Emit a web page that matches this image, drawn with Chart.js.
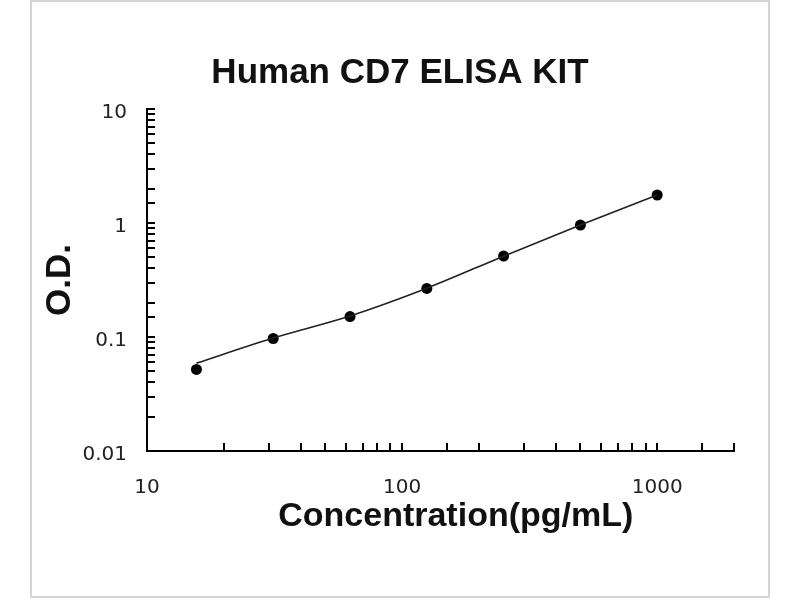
<!DOCTYPE html>
<html><head><meta charset="utf-8">
<script src="https://cdn.jsdelivr.net/npm/chart.js@4.4.1/dist/chart.umd.min.js"></script>
<style>
html,body{margin:0;padding:0;background:#fff;}
#wrap{position:relative;width:800px;height:600px;}
#frame{position:absolute;left:30px;top:0;width:736px;height:594px;border:2px solid #d4d4d4;pointer-events:none;}
canvas{position:absolute;left:0;top:0;}
</style></head><body>
<div id="wrap"><canvas id="c" width="800" height="600"></canvas><div id="frame"></div></div>
<script>
const chartTitle = 'Human CD7 ELISA KIT';
const xAxisTitle = 'Concentration(pg/mL)';
const yAxisTitle = 'O.D.';
const concentrations = [15.625, 31.25, 62.5, 125, 250, 500, 1000];
const odValues = [0.052, 0.097, 0.151, 0.267, 0.513, 0.959, 1.76];
const fitValues = [0.059, 0.098, 0.153, 0.268, 0.512, 0.96, 1.76];
const xTickLabels = ['10', '100', '1000'];
const yTickLabels = ['0.01', '0.1', '1', '10'];
const xRange = [10, 2000];
const yRange = [0.01, 10];

function labelFor(v, labels) {
  for (const l of labels) {
    if (Math.abs(Math.log10(v) - Math.log10(parseFloat(l))) < 1e-6) return l;
  }
  return '';
}

const innerTicks = {
  id: 'innerTicks',
  afterDraw(chart) {
    const ctx = chart.ctx, a = chart.chartArea;
    ctx.save();
    ctx.strokeStyle = '#000';
    ctx.lineWidth = 2;
    const xs = chart.scales.x, ys = chart.scales.y;
    ctx.beginPath();
    xs.ticks.forEach(t => {
      const p = Math.round(xs.getPixelForValue(t.value));
      if (p <= a.left + 1) return;
      ctx.moveTo(p, a.bottom);
      ctx.lineTo(p, a.bottom - 8);
    });
    ys.ticks.forEach(t => {
      const p = Math.round(ys.getPixelForValue(t.value));
      if (p >= a.bottom - 1) return;
      ctx.moveTo(a.left, p);
      ctx.lineTo(a.left + 8, p);
    });
    ctx.stroke();
    // x axis title
    ctx.font = 'bold 34px "Liberation Sans", Arial, sans-serif';
    ctx.fillStyle = '#111';
    ctx.textAlign = 'center';
    ctx.textBaseline = 'middle';
    ctx.fillText(xAxisTitle, a.left + (a.right - a.left) * 0.526, a.bottom + 66);
    ctx.restore();
  }
};

new Chart(document.getElementById('c'), {
  type: 'scatter',
  data: {
    datasets: [
      {
        label: 'fit',
        data: concentrations.map((x, i) => ({x: x, y: fitValues[i]})),
        showLine: true,
        borderColor: '#222',
        borderWidth: 1.6,
        pointRadius: 0,
        cubicInterpolationMode: 'monotone',
        fill: false
      },
      {
        label: 'O.D.',
        data: concentrations.map((x, i) => ({x: x, y: odValues[i]})),
        showLine: false,
        backgroundColor: '#000',
        borderColor: '#000',
        borderWidth: 0,
        pointRadius: 5.5
      }
    ]
  },
  options: {
    responsive: false,
    animation: false,
    layout: {padding: {left: 0, right: 0, top: 0, bottom: 0}},
    plugins: {
      legend: {display: false},
      tooltip: {enabled: false},
      title: {
        display: true,
        text: chartTitle,
        color: '#111',
        font: {family: '"Liberation Sans", Arial, sans-serif', size: 35, weight: 'bold'},
        padding: {top: 52, bottom: 15}
      }
    },
    scales: {
      x: {
        type: 'logarithmic',
        min: xRange[0],
        max: xRange[1],
        afterFit(s) { s.height = 149; },
        grid: {display: true, drawOnChartArea: false, drawTicks: false},
        border: {display: true, color: '#000', width: 2},
        ticks: {
          autoSkip: false,
          maxRotation: 0,
          padding: 25,
          color: '#222',
          font: {family: '"DejaVu Sans", sans-serif', size: 20},
          callback: (v) => labelFor(v, xTickLabels)
        }
      },
      y: {
        type: 'logarithmic',
        min: yRange[0],
        max: yRange[1],
        afterFit(s) { s.width = 147; },
        grid: {display: true, drawOnChartArea: false, drawTicks: false},
        border: {display: true, color: '#000', width: 2},
        title: {
          display: true,
          text: yAxisTitle,
          color: '#111',
          font: {family: '"Liberation Sans", Arial, sans-serif', size: 35, weight: 'bold'},
          padding: {top: 39, bottom: 0}
        },
        ticks: {
          autoSkip: false,
          padding: 20,
          labelOffset: 4,
          color: '#222',
          font: {family: '"DejaVu Sans", sans-serif', size: 20},
          callback: (v) => labelFor(v, yTickLabels)
        }
      },
      rightSpace: {
        type: 'linear',
        position: 'right',
        display: true,
        afterFit(s) { s.width = 66; },
        grid: {display: false},
        border: {display: false},
        ticks: {display: false}
      }
    }
  },
  plugins: [innerTicks]
});
</script>
</body></html>
